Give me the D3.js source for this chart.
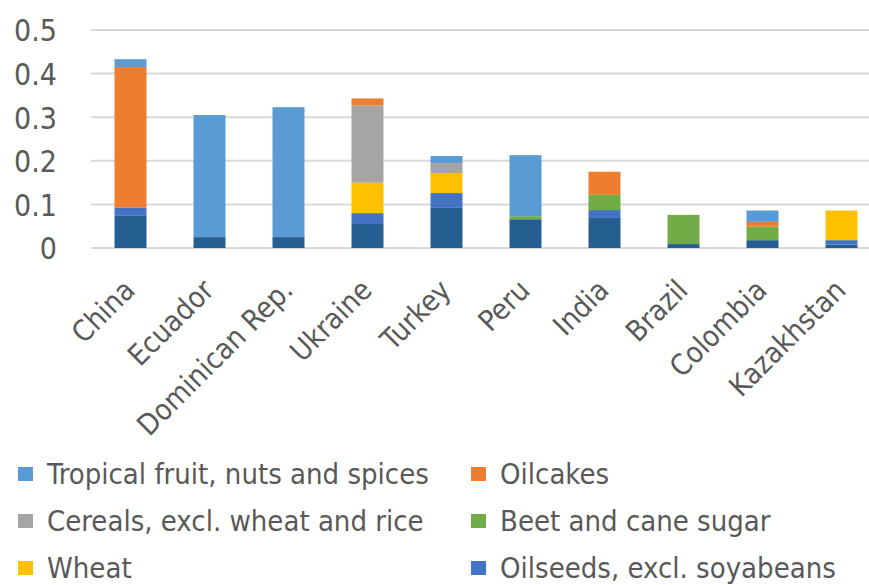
<!DOCTYPE html>
<html>
<head>
<meta charset="utf-8">
<script src="https://cdn.jsdelivr.net/npm/d3@7"></script>
<style>
  html, body { margin: 0; padding: 0; background: #fff; }
  svg text { font-family: "DejaVu Sans Condensed", "DejaVu Sans", sans-serif; font-stretch: condensed; fill: #595959; }
</style>
</head>
<body>
<svg id="chart" width="869" height="585"></svg>
<script>
// Countries, left to right
const countries = ["China", "Ecuador", "Dominican Rep.", "Ukraine", "Turkey", "Peru", "India", "Brazil", "Colombia", "Kazakhstan"];

// Product groups, values per country (same order as countries)
const otherProducts   = [0.075, 0.025, 0.025, 0.055, 0.092, 0.066, 0.069, 0.009, 0.018, 0.008];
const oilseeds        = [0.018, 0,     0,     0.025, 0.034, 0,     0.018, 0,     0,     0.010];
const sugar           = [0,     0,     0,     0,     0,     0.007, 0.035, 0.067, 0.031, 0];
const wheat           = [0,     0,     0,     0.070, 0.046, 0,     0,     0,     0,     0.068];
const cereals         = [0,     0,     0,     0.177, 0.023, 0,     0,     0,     0,     0];
const oilcakes        = [0.322, 0,     0,     0.016, 0,     0,     0.053, 0,     0.011, 0];
const tropical        = [0.018, 0.280, 0.298, 0,     0.016, 0.140, 0,     0,     0.026, 0];

const yTicks = [0, 0.1, 0.2, 0.3, 0.4, 0.5];
const yTickLabels = ["0", "0.1", "0.2", "0.3", "0.4", "0.5"];

// Series listed bottom to top of each stack
const series = [
  { key: "other",    name: "Other products",                  values: otherProducts, color: "#255E91", legend: false },
  { key: "oilseeds", name: "Oilseeds, excl. soyabeans",       values: oilseeds,      color: "#4472C4", legend: true },
  { key: "sugar",    name: "Beet and cane sugar",             values: sugar,         color: "#70AD47", legend: true },
  { key: "wheat",    name: "Wheat",                           values: wheat,         color: "#FFC000", legend: true },
  { key: "cereals",  name: "Cereals, excl. wheat and rice",   values: cereals,       color: "#A5A5A5", legend: true },
  { key: "oilcakes", name: "Oilcakes",                        values: oilcakes,      color: "#ED7D31", legend: true },
  { key: "tropical", name: "Tropical fruit, nuts and spices", values: tropical,      color: "#5B9BD5", legend: true }
];

// Legend reading order: two columns, row by row
const legendOrder = ["tropical", "oilcakes", "cereals", "sugar", "wheat", "oilseeds"];

const rows = countries.map((c, i) => {
  const r = { country: c };
  series.forEach(s => { r[s.key] = s.values[i]; });
  return r;
});

const svg = d3.select("#chart");

const x = d3.scaleBand()
  .domain(countries)
  .range([91, 881])
  .paddingInner(0.595)
  .paddingOuter(0.2975);

const y = d3.scaleLinear().domain([0, 0.5]).range([248, 30]);

// Horizontal gridlines
svg.append("g")
  .selectAll("line")
  .data(yTicks)
  .join("line")
  .attr("x1", 91).attr("x2", 869)
  .attr("y1", d => y(d)).attr("y2", d => y(d))
  .attr("stroke", "#d9d9d9")
  .attr("stroke-width", 2);

// Y axis labels
const yAxis = d3.axisLeft(y)
  .tickValues(yTicks)
  .tickFormat((d, i) => yTickLabels[i])
  .tickSize(0)
  .tickPadding(0);

const gy = svg.append("g").attr("transform", "translate(57,0)").call(yAxis);
gy.select(".domain").remove();
gy.selectAll("text")
  .attr("font-size", 30)
  .attr("dy", "0.36em")
  .style("font-family", "'DejaVu Sans Condensed', 'DejaVu Sans', sans-serif")
  .attr("fill", "#6b6b6b");

// Stacked bars
const stack = d3.stack().keys(series.map(s => s.key));
const stacked = stack(rows);

svg.append("g")
  .selectAll("g")
  .data(stacked)
  .join("g")
  .attr("fill", (d, i) => series[i].color)
  .selectAll("rect")
  .data(d => d)
  .join("rect")
  .attr("x", d => x(d.data.country))
  .attr("width", x.bandwidth())
  .attr("y", d => y(d[1]))
  .attr("height", d => Math.max(0, y(d[0]) - y(d[1])));

// X axis with rotated category labels
const xAxis = d3.axisBottom(x).tickSize(0).tickPadding(0);
const gx = svg.append("g").attr("transform", "translate(0,248)").call(xAxis);
gx.select(".domain").remove();
gx.selectAll("text")
  .attr("font-size", 29)
  .attr("text-anchor", "end")
  .attr("fill", "#6b6b6b")
  .style("font-family", "'DejaVu Sans Condensed', 'DejaVu Sans', sans-serif")
  .attr("dy", 0)
  .attr("y", 0)
  .attr("transform", "translate(6,44) rotate(-45)");

// Legend
const legendItems = legendOrder.map(k => series.find(s => s.key === k));
const legend = svg.append("g")
  .selectAll("g")
  .data(legendItems)
  .join("g")
  .attr("transform", (d, i) => `translate(${i % 2 === 0 ? 18 : 471},${474 + Math.floor(i / 2) * 47})`);

legend.append("rect")
  .attr("x", 0).attr("y", -7)
  .attr("width", 15).attr("height", 14)
  .attr("fill", d => d.color);

legend.append("text")
  .attr("x", 29)
  .attr("y", 0)
  .attr("dy", "0.36em")
  .attr("font-size", 29)
  .attr("fill", "#5f5f5f")
  .text(d => d.name);
</script>
</body>
</html>
